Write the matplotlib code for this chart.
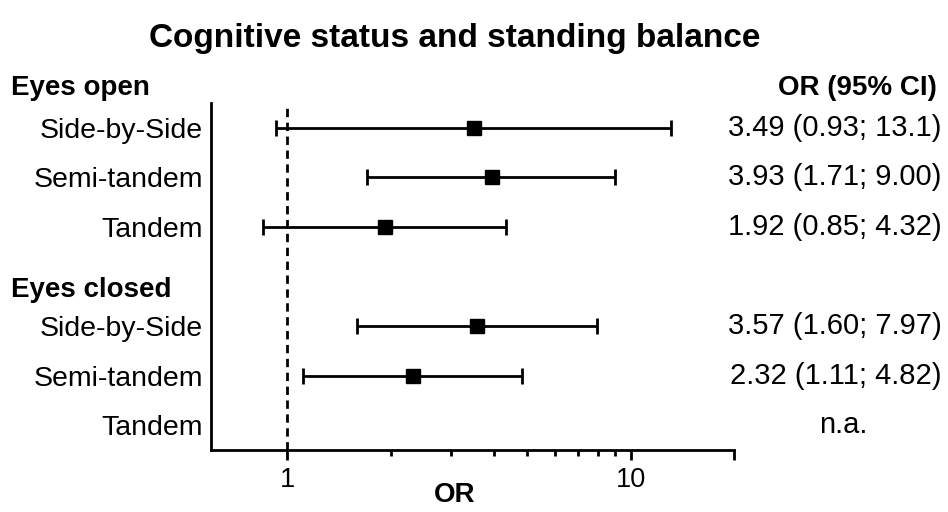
import numpy as np
from matplotlib import pyplot as plt
from matplotlib import transforms

plt.rcParams['font.family'] = ['Liberation Sans', 'DejaVu Sans']

# rows (top to bottom)
labels = ['Side-by-Side', 'Semi-tandem', 'Tandem', 'Side-by-Side', 'Semi-tandem', 'Tandem']
rows = [0, 1, 2, 4, 5, 6]
odds = [3.49, 3.93, 1.92, 3.57, 2.32, np.nan]
ci_low = [0.93, 1.71, 0.85, 1.60, 1.11, np.nan]
ci_high = [13.1, 9.00, 4.32, 7.97, 4.82, np.nan]
ci_text = ['3.49 (0.93; 13.1)', '3.93 (1.71; 9.00)', '1.92 (0.85; 4.32)',
           '3.57 (1.60; 7.97)', '2.32 (1.11; 4.82)', 'n.a.']
groups = ['Eyes open', 'Eyes closed']
group_rows = [-0.8, 3.28]

fig = plt.figure(figsize=(9.48, 5.12), dpi=100)
ax = fig.add_axes([0.2226, 0.121, 0.552, 0.678])

odds = np.array(odds)
lo = np.array(ci_low)
hi = np.array(ci_high)
ok = ~np.isnan(odds)
yr = np.array(rows)
ax.errorbar(odds[ok], yr[ok], xerr=[odds[ok] - lo[ok], hi[ok] - odds[ok]],
            fmt='s', color='black', markersize=10, elinewidth=2,
            capsize=6, capthick=2)
ax.axvline(1, color='black', lw=2, ls=(0, (3, 2)))

ax.set_xscale('log')
ax.set_xlim(0.6, 20)
ax.set_ylim(6.5, -0.5)
ax.set_xticks([1, 10, 20])
ax.set_xticklabels(['1', '10', ''])
ax.set_xticks([2, 3, 4, 5, 6, 7, 8, 9], minor=True)
ax.xaxis.set_minor_formatter(plt.NullFormatter())
ax.tick_params(axis='x', which='major', length=7, width=2, labelsize=19.5, pad=5)
ax.tick_params(axis='x', which='minor', length=4.5, width=2)
ax.set_yticks(rows)
ax.set_yticklabels(labels)
ax.tick_params(axis='y', length=0, labelsize=20.5, pad=6)
for s in ['top', 'right']:
    ax.spines[s].set_visible(False)
for s in ['left', 'bottom']:
    ax.spines[s].set_linewidth(2)

tr = transforms.blended_transform_factory(fig.transFigure, ax.transData)
for g, gy in zip(groups, group_rows):
    ax.text(0.012, gy, g, transform=tr, fontsize=20, fontweight='bold',
            ha='left', va='center', clip_on=False)
ax.text(0.988, -0.8, 'OR (95% CI)', transform=tr, fontsize=20, fontweight='bold',
        ha='right', va='center', clip_on=False)
for r, t in zip(rows, ci_text):
    if t == 'n.a.':
        ax.text(0.889, r, t, transform=tr, fontsize=21, ha='center', va='center', clip_on=False)
    else:
        ax.text(0.993, r, t, transform=tr, fontsize=21, ha='right', va='center', clip_on=False)

fig.text(0.48, 0.925, 'Cognitive status and standing balance', fontsize=24,
         fontweight='bold', ha='center', va='center')
fig.text(0.48, 0.034, 'OR', fontsize=20, fontweight='bold', ha='center', va='center')

fig.savefig('out.png', dpi=100)
